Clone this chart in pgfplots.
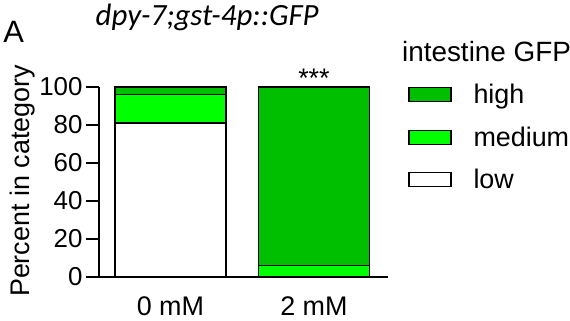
\documentclass[border=0pt]{standalone}
\usepackage{pgfplots}
\pgfplotsset{compat=1.18}
\usepackage{fontspec}
\setmainfont{Liberation Sans}
\newfontfamily\carlito{Carlito}
\definecolor{hi}{RGB}{0,190,0}
\definecolor{med}{RGB}{0,255,0}
\begin{document}
\begin{tikzpicture}[x=1bp,y=1bp]
\useasboundingbox (0,0) rectangle (570,320);
\begin{axis}[
  at={(99bp,43bp)}, anchor=south west,
  scale only axis, width=289bp, height=190bp,
  xmin=-0.498, xmax=1.516, ymin=0, ymax=100,
  axis x line*=bottom, axis y line*=left,
  axis line style={line width=2.5bp},
  ybar stacked, bar width=111bp,
  xtick={0,1}, xticklabels={0 mM, 2 mM},
  ytick={0,20,40,60,80,100},
  tick align=outside, major tick length=13bp,
  xtick style={draw=none},
  ytick style={line width=2.5bp, black},
  /pgf/number format/assume math mode=true,
  tick label style={font=\fontsize{26}{30}\selectfont},
  xticklabel style={font=\fontsize{27}{30}\selectfont, yshift=-3bp},
  ylabel={Percent in category},
  ylabel style={font=\fontsize{27}{30}\selectfont, at={(rel axis cs:-0.266,0.505)}, anchor=center},
  clip=false,
  reverse legend,
  legend cell align=left,
  legend image code/.code={\draw[#1, line width=1.3bp] (0bp,-7bp) rectangle (42bp,7bp);},
  legend style={draw=none, fill=none, at={(rel axis cs:1.0692,1.026)}, anchor=north west,
    inner sep=0pt, row sep=17.5bp, font=\fontsize{27}{30}\selectfont,
    /tikz/every odd column/.append style={column sep=20bp}},
]
\addplot[fill=white, draw=black, line width=1.3bp] coordinates {(0,81) (1,0)};
\addplot[fill=med, draw=black, line width=1.3bp] coordinates {(0,15) (1,6)};
\addplot[fill=hi, draw=black, line width=1.3bp] coordinates {(0,4) (1,94)};
\legend{low, medium, high}
\node[anchor=base, font=\fontsize{27}{30}\selectfont, inner sep=0pt] at (axis cs:1,100) {***};
\node[anchor=base west, inner sep=0pt, font=\fontsize{28}{30}\selectfont] at (rel axis cs:1.048,1.132) {intestine GFP};
\node[anchor=base west, inner sep=0pt, font=\carlito\itshape\fontsize{31}{34}\selectfont] at (rel axis cs:-0.012,1.326) {dpy-7;gst-4p::GFP};
\node[anchor=base west, inner sep=0pt, font=\fontsize{31}{34}\selectfont] at (rel axis cs:-0.332,1.232) {A};
\end{axis}
\end{tikzpicture}
\end{document}
